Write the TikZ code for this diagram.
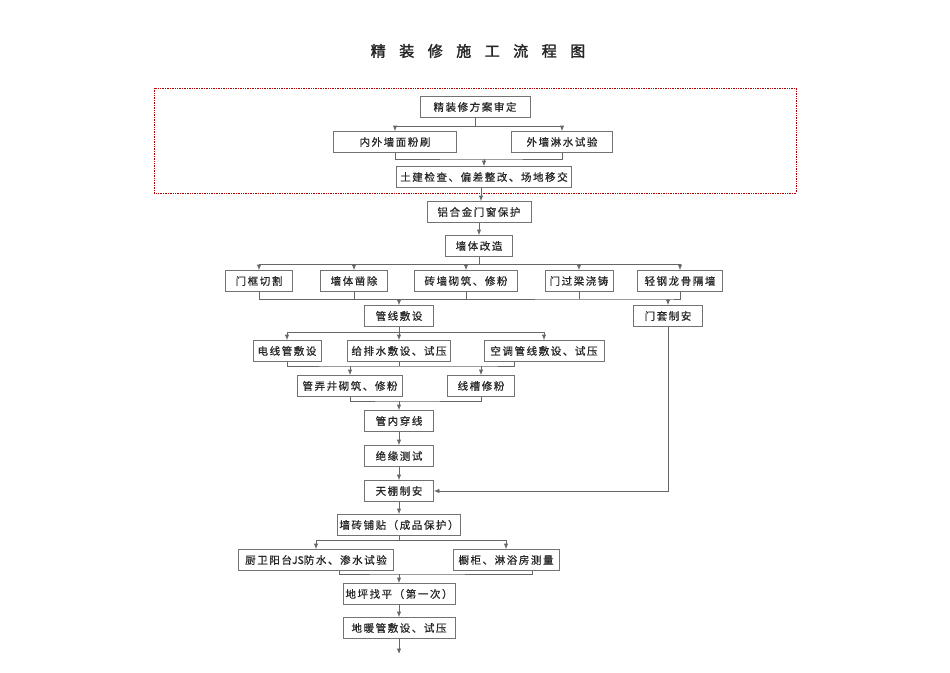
\documentclass[tikz,border=0pt]{standalone}
\usepackage{fontspec}
\newfontfamily\cjk[LetterSpace=15,FakeBold=0.6]{Noto Sans CJK SC}
\newfontfamily\cjklat[FakeBold=0.6]{Noto Sans CJK SC}
\newfontfamily\cjktitle[LetterSpace=90,FakeBold=2]{Noto Sans CJK SC}
\usetikzlibrary{arrows.meta}
\begin{document}
\begin{tikzpicture}[x=1pt,y=-1pt,
  bx/.style={draw=black!55,line width=0.8pt,minimum height=21,inner sep=0pt,font=\cjk\fontsize{10.5}{11}\selectfont,text=black!85},
  ln/.style={draw=black!60,line width=0.8pt},
  arr/.style={ln,-{Latex[length=5.5pt,width=4.5pt]}}]
\useasboundingbox (0,0) rectangle (950,672);
\node[font=\cjktitle\fontsize{15}{16}\selectfont,text=black!85] (title) at (478,51) {精装修施工流程图};
\draw[red!70!black,densely dotted,line width=0.7pt] (154,88) rectangle (796,193);
\node[bx,minimum width=110] (a1) at (475,107) {精装修方案审定};
\node[bx,minimum width=123] (a2) at (395,142) {内外墙面粉刷};
\node[bx,minimum width=101] (a3) at (562,142) {外墙淋水试验};
\node[bx,minimum width=175] (a4) at (484,177) {土建检查、偏差整改、场地移交};
\node[bx,minimum width=104] (a5) at (479,212) {铝合金门窗保护};
\node[bx,minimum width=67] (a6) at (479,246) {墙体改造};
\node[bx,minimum width=67] (r1) at (259,281) {门框切割};
\node[bx,minimum width=67] (r2) at (354,281) {墙体凿除};
\node[bx,minimum width=103] (r3) at (466,281) {砖墙砌筑、修粉};
\node[bx,minimum width=68] (r4) at (579,281) {门过梁浇铸};
\node[bx,minimum width=85] (r5) at (680,281) {轻钢龙骨隔墙};
\node[bx,minimum width=69] (g1) at (399,316) {管线敷设};
\node[bx,minimum width=69] (mt) at (668,316) {门套制安};
\node[bx,minimum width=68] (p1) at (287,351) {电线管敷设};
\node[bx,minimum width=103] (p2) at (399,351) {给排水敷设、试压};
\node[bx,minimum width=120] (p3) at (544,351) {空调管线敷设、试压};
\node[bx,minimum width=105] (q1) at (350,386) {管弄井砌筑、修粉};
\node[bx,minimum width=67] (q2) at (481,386) {线槽修粉};
\node[bx,minimum width=69] (s1) at (399,421) {管内穿线};
\node[bx,minimum width=69] (s2) at (399,456) {绝缘测试};
\node[bx,minimum width=69] (s3) at (399,491) {天棚制安};
\node[bx,minimum width=123] (s4) at (399,525) {墙砖铺贴（成品保护）};
\node[bx,minimum width=155] (t1) at (316,560) {厨卫阳台{\cjklat JS}防水、渗水试验};
\node[bx,minimum width=106] (t2) at (506,560) {橱柜、淋浴房测量};
\node[bx,minimum width=112] (u1) at (399,594) {地坪找平（第一次）};
\node[bx,minimum width=112] (u2) at (399,628) {地暖管敷设、试压};
\coordinate (end) at (399,654);
% top group
\coordinate (j1) at (475,126);
\draw[ln] (a1.south) -- (j1);
\draw[arr] (j1) -| (a2.north);
\draw[arr] (j1) -| (a3.north);
\coordinate (m1) at (484,159);
\draw[ln] (a2.south) |- (m1) -| (a3.south);
\draw[arr] (m1) -- (a4.north);
\draw[arr] ([xshift=2]a5.north |- a4.south) -- ([xshift=2]a5.north);
\draw[arr] (a5.south) -- (a6.north);
% wall row
\coordinate (j2) at (479,264);
\draw[ln] (a6.south) -- (j2);
\foreach \n in {r1,r2,r3,r4,r5} \draw[arr] (j2) -| (\n.north);
\coordinate (m2) at (399,299);
\coordinate (m2b) at (668,299);
\draw[ln] (r1.south) |- (m2);
\draw[ln] (r2.south) -- (r2.south |- m2);
\draw[ln] (r3.south) -- (r3.south |- m2);
\draw[ln] (r4.south) -- (r4.south |- m2);
\draw[ln] (m2) -- (m2b) -| (r5.south);
\draw[arr] (m2) -- (g1.north);
\draw[arr] (m2b) -- (mt.north);
% pipes
\coordinate (j3) at (399,332);
\draw[ln] (g1.south) -- (j3);
\foreach \n in {p1,p2,p3} \draw[arr] (j3) -| (\n.north);
\coordinate (m3a) at (350,366);
\coordinate (m3b) at (481,366);
\draw[ln] (p1.south) |- (m3a) -- (m3b) -| ([xshift=-30]p3.south);
\draw[ln] (p2.south) -- (p2.south |- m3a);
\draw[arr] (m3a) -- (q1.north);
\draw[arr] (m3b) -- (q2.north);
\coordinate (m4) at (399,401);
\draw[ln] (q1.south) |- (m4) -| (q2.south);
\draw[arr] (m4) -- (s1.north);
\draw[arr] (s1.south) -- (s2.north);
\draw[arr] (s2.south) -- (s3.north);
\draw[arr] (mt.south) |- (s3.east);
\draw[arr] (s3.south) -- (s4.north);
\coordinate (j5) at (399,540);
\draw[ln] (s4.south) -- (j5);
\draw[arr] (j5) -| (t1.north);
\draw[arr] (j5) -| (t2.north);
\coordinate (m5) at (399,574);
\draw[ln] ([xshift=23]t1.south) |- (m5) -| ([xshift=26]t2.south);
\draw[arr] (m5) -- (u1.north);
\draw[arr] (u1.south) -- (u2.north);
\draw[arr] (u2.south) -- (end);
\end{tikzpicture}
\end{document}
